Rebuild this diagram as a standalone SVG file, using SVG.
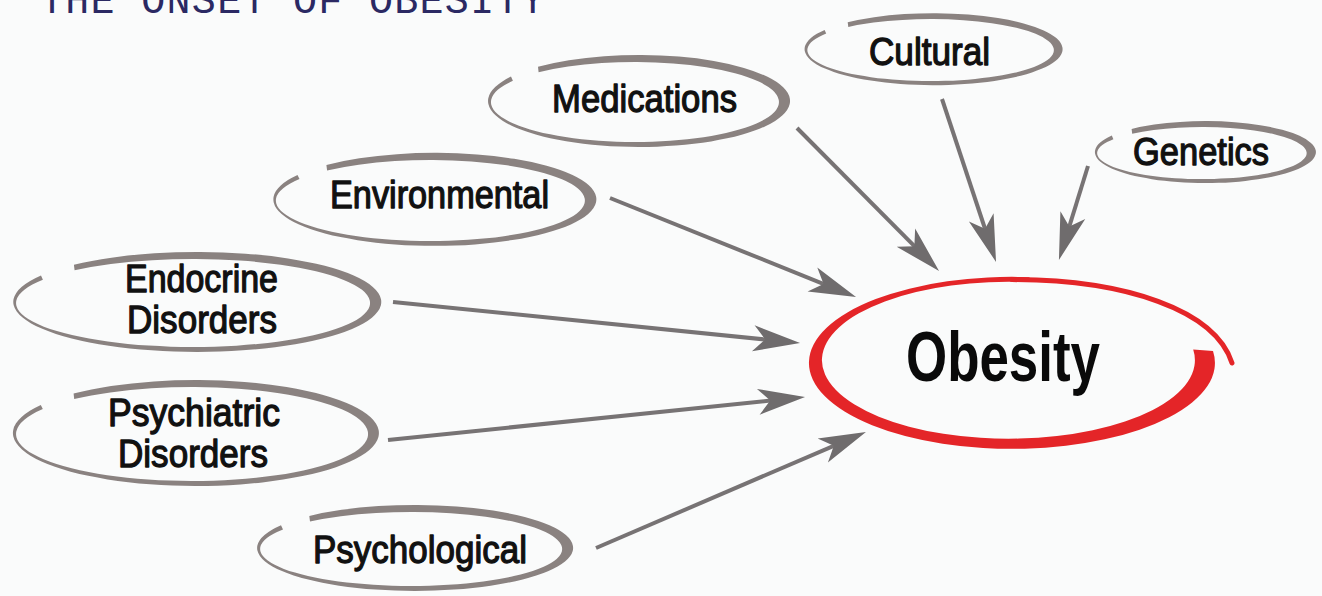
<svg xmlns="http://www.w3.org/2000/svg" width="1322" height="596" viewBox="0 0 1322 596">
  <style>
    .bg { fill: #fafbfb; }
    .title { font-family: "Liberation Mono", "DejaVu Sans Mono", monospace; font-size: 40px; letter-spacing: 1.3px; fill: #2b2963; }
    .ring { fill: #8a8280; }
    .lbl { font-family: "Liberation Sans", Arial, sans-serif; font-size: 39px; fill: #111111; stroke: #111111; stroke-width: 1.3px; stroke-linejoin: round; }
    .big { font-family: "Liberation Sans", Arial, sans-serif; font-size: 70px; font-weight: bold; fill: #0a0a0a; }
    .red { fill: #e42528; }
    .redline { fill: none; stroke: #e42528; stroke-width: 5; stroke-linecap: round; }
    .conn { fill: none; stroke: #777374; stroke-width: 4; marker-end: url(#head); }
  </style>
  <defs>
    <marker id="head" markerUnits="userSpaceOnUse" markerWidth="60" markerHeight="40" refX="0" refY="0" orient="auto" overflow="visible" viewBox="-30 -20 60 40">
      <path d="M30,0 L-17,-13 L-5,0 L-17,13 Z" fill="#6f6c6d"/>
    </marker>
  </defs>
  <rect class="bg" x="0" y="0" width="1322" height="596"/>

  <text class="title" x="40" y="13">THE ONSET OF OBESITY</text>

  <g id="connectors">
    <path class="conn" d="M797,128 L917.9,249.7"/>
    <path class="conn" d="M942,99 L986.6,233.5"/>
    <path class="conn" d="M1088,166 L1067.8,231.3"/>
    <path class="conn" d="M610,198 L828.2,285.8"/>
    <path class="conn" d="M393,302 L770.2,340"/>
    <path class="conn" d="M388,440 L775.2,400.1"/>
    <path class="conn" d="M596,548 L838.4,443.8"/>
  </g>

  <g id="node-cultural">
    <path class="ring" d="M847.7,22.3 A129,36 0 1 1 824.6,29.9 L826.2,33.6 A123.25,31 0 1 0 848.3,27.0 Z"/>
    <text class="lbl" x="869" y="65" textLength="121" lengthAdjust="spacingAndGlyphs">Cultural</text>
  </g>

  <g id="node-genetics">
    <path class="ring" d="M1131.6,129.0 A110.5,31 0 1 1 1111.8,135.6 L1113.4,139.2 A104.75,26 0 1 0 1132.2,133.7 Z"/>
    <text class="lbl" x="1133" y="165" textLength="136" lengthAdjust="spacingAndGlyphs">Genetics</text>
  </g>

  <g id="node-medications">
    <path class="ring" d="M538.0,66.8 A151,46 0 1 1 511.0,76.6 L512.9,80.8 A144,40 0 1 0 538.6,72.3 Z"/>
    <text class="lbl" x="552" y="112" textLength="185" lengthAdjust="spacingAndGlyphs">Medications</text>
  </g>

  <g id="node-environmental">
    <path class="ring" d="M326.4,164.9 A161.5,46.5 0 1 1 297.5,174.9 L299.5,179.0 A154.5,40.5 0 1 0 327.1,170.4 Z"/>
    <text class="lbl" x="330" y="208" textLength="219" lengthAdjust="spacingAndGlyphs">Environmental</text>
  </g>

  <g id="node-endocrine">
    <path class="ring" d="M73.9,264.8 A184,50 0 1 1 41.0,275.5 L42.9,279.7 A177,44 0 1 0 74.6,270.3 Z"/>
    <text class="lbl" x="125" y="292" textLength="153" lengthAdjust="spacingAndGlyphs">Endocrine</text>
    <text class="lbl" x="127" y="333" textLength="150" lengthAdjust="spacingAndGlyphs">Disorders</text>
  </g>

  <g id="node-psychiatric">
    <path class="ring" d="M73.6,393.6 A183,53 0 1 1 40.8,404.9 L42.8,409.1 A176,47 0 1 0 74.2,399.1 Z"/>
    <text class="lbl" x="108" y="426" textLength="172" lengthAdjust="spacingAndGlyphs">Psychiatric</text>
    <text class="lbl" x="118" y="467" textLength="150" lengthAdjust="spacingAndGlyphs">Disorders</text>
  </g>

  <g id="node-psychological">
    <path class="ring" d="M309.3,516.0 A158,43 0 1 1 281.0,525.2 L283.0,529.4 A151,37 0 1 0 310.0,521.5 Z"/>
    <text class="lbl" x="313" y="563" textLength="214" lengthAdjust="spacingAndGlyphs">Psychological</text>
  </g>

  <g id="node-obesity">
    <path class="red" d="M1213.0,351.0 A203,86 0 1 1 1029.7,277.2 L1027.2,282.1 A186.5,78.5 0 1 0 1193.2,349.6 Z"/>
    <path class="redline" d="M1012,279.6 C1125,279.6 1215,310 1232,363"/>
    <text class="big" x="906" y="381" textLength="194" lengthAdjust="spacingAndGlyphs">Obesity</text>
  </g>
</svg>
